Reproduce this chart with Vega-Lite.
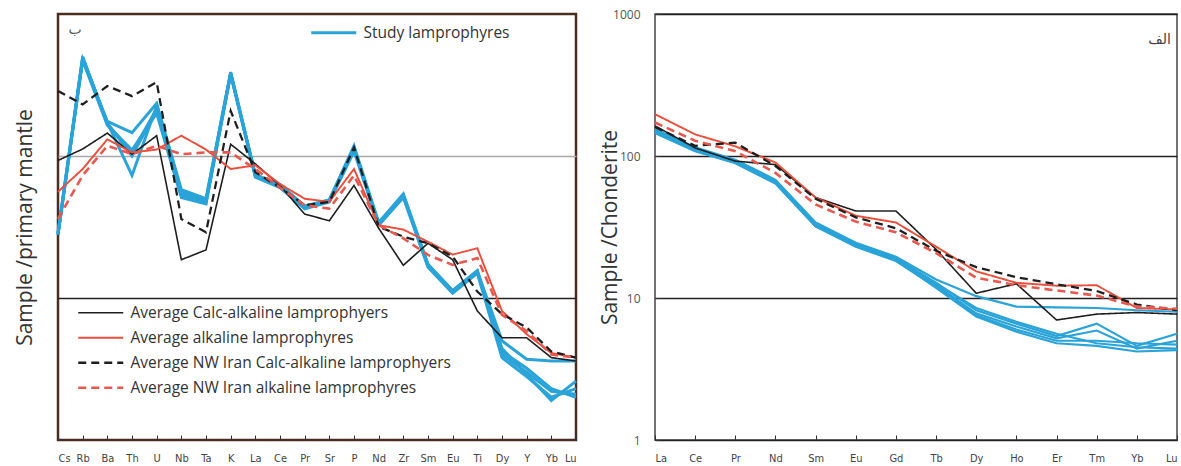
{
  "$schema": "https://vega.github.io/schema/vega-lite/v6.json",
  "padding": {"left": 12, "top": 7, "right": 4, "bottom": 0},
  "background": "white",
  "spacing": 14,
  "config": {
    "font": "Open Sans",
    "axis": {"titleFont": "Open Sans", "titleFontWeight": "normal", "titleColor": "#333", "labelColor": "#444"},
    "legend": {"padding": 0}
  },
  "datasets": {
    "leftBlue": [
      {"e":"Cs","s":"L1","v":28},{"e":"Rb","s":"L1","v":480},{"e":"Ba","s":"L1","v":175},{"e":"Th","s":"L1","v":146},{"e":"U","s":"L1","v":235},{"e":"Nb","s":"L1","v":58},{"e":"Ta","s":"L1","v":50},{"e":"K","s":"L1","v":390},{"e":"La","s":"L1","v":73},{"e":"Ce","s":"L1","v":62},{"e":"Pr","s":"L1","v":44},{"e":"Sr","s":"L1","v":49},{"e":"P","s":"L1","v":115},{"e":"Nd","s":"L1","v":33},{"e":"Zr","s":"L1","v":53},{"e":"Sm","s":"L1","v":17},{"e":"Eu","s":"L1","v":11.1},{"e":"Ti","s":"L1","v":15.5},{"e":"Dy","s":"L1","v":5.0},{"e":"Y","s":"L1","v":3.7},{"e":"Yb","s":"L1","v":3.6},{"e":"Lu","s":"L1","v":3.6},
      {"e":"Cs","s":"L2","v":28},{"e":"Rb","s":"L2","v":495},{"e":"Ba","s":"L2","v":172},{"e":"Th","s":"L2","v":73},{"e":"U","s":"L2","v":225},{"e":"Nb","s":"L2","v":56},{"e":"Ta","s":"L2","v":49},{"e":"K","s":"L2","v":385},{"e":"La","s":"L2","v":72},{"e":"Ce","s":"L2","v":61},{"e":"Pr","s":"L2","v":43.5},{"e":"Sr","s":"L2","v":48.5},{"e":"P","s":"L2","v":112},{"e":"Nd","s":"L2","v":33.5},{"e":"Zr","s":"L2","v":52},{"e":"Sm","s":"L2","v":16.8},{"e":"Eu","s":"L2","v":11.0},{"e":"Ti","s":"L2","v":15.2},{"e":"Dy","s":"L2","v":4.4},{"e":"Y","s":"L2","v":2.9},{"e":"Yb","s":"L2","v":1.9},{"e":"Lu","s":"L2","v":2.6},
      {"e":"Cs","s":"L3","v":29},{"e":"Rb","s":"L3","v":500},{"e":"Ba","s":"L3","v":168},{"e":"Th","s":"L3","v":106},{"e":"U","s":"L3","v":215},{"e":"Nb","s":"L3","v":53},{"e":"Ta","s":"L3","v":47},{"e":"K","s":"L3","v":380},{"e":"La","s":"L3","v":74},{"e":"Ce","s":"L3","v":63},{"e":"Pr","s":"L3","v":44.5},{"e":"Sr","s":"L3","v":49},{"e":"P","s":"L3","v":118},{"e":"Nd","s":"L3","v":34},{"e":"Zr","s":"L3","v":54},{"e":"Sm","s":"L3","v":17.3},{"e":"Eu","s":"L3","v":11.3},{"e":"Ti","s":"L3","v":15.6},{"e":"Dy","s":"L3","v":4.0},{"e":"Y","s":"L3","v":3.0},{"e":"Yb","s":"L3","v":2.2},{"e":"Lu","s":"L3","v":2.1},
      {"e":"Cs","s":"L4","v":28},{"e":"Rb","s":"L4","v":470},{"e":"Ba","s":"L4","v":165},{"e":"Th","s":"L4","v":110},{"e":"U","s":"L4","v":200},{"e":"Nb","s":"L4","v":51},{"e":"Ta","s":"L4","v":46},{"e":"K","s":"L4","v":375},{"e":"La","s":"L4","v":71},{"e":"Ce","s":"L4","v":60},{"e":"Pr","s":"L4","v":42.5},{"e":"Sr","s":"L4","v":47.5},{"e":"P","s":"L4","v":108},{"e":"Nd","s":"L4","v":32.5},{"e":"Zr","s":"L4","v":51},{"e":"Sm","s":"L4","v":16.5},{"e":"Eu","s":"L4","v":10.8},{"e":"Ti","s":"L4","v":15},{"e":"Dy","s":"L4","v":3.8},{"e":"Y","s":"L4","v":2.8},{"e":"Yb","s":"L4","v":2.0},{"e":"Lu","s":"L4","v":2.3},
      {"e":"Cs","s":"L5","v":28.5},{"e":"Rb","s":"L5","v":485},{"e":"Ba","s":"L5","v":170},{"e":"Th","s":"L5","v":100},{"e":"U","s":"L5","v":210},{"e":"Nb","s":"L5","v":54},{"e":"Ta","s":"L5","v":48},{"e":"K","s":"L5","v":382},{"e":"La","s":"L5","v":72.5},{"e":"Ce","s":"L5","v":61.5},{"e":"Pr","s":"L5","v":43},{"e":"Sr","s":"L5","v":48},{"e":"P","s":"L5","v":113},{"e":"Nd","s":"L5","v":33},{"e":"Zr","s":"L5","v":52.5},{"e":"Sm","s":"L5","v":17},{"e":"Eu","s":"L5","v":11.2},{"e":"Ti","s":"L5","v":15.3},{"e":"Dy","s":"L5","v":4.2},{"e":"Y","s":"L5","v":3.2},{"e":"Yb","s":"L5","v":2.3},{"e":"Lu","s":"L5","v":2.0}
    ],
    "leftAvg": [
      {"e":"Cs","s":"Average Calc-alkaline lamprophyers","v":93},{"e":"Rb","s":"Average Calc-alkaline lamprophyers","v":112},{"e":"Ba","s":"Average Calc-alkaline lamprophyers","v":145},{"e":"Th","s":"Average Calc-alkaline lamprophyers","v":103},{"e":"U","s":"Average Calc-alkaline lamprophyers","v":139},{"e":"Nb","s":"Average Calc-alkaline lamprophyers","v":18.6},{"e":"Ta","s":"Average Calc-alkaline lamprophyers","v":21.8},{"e":"K","s":"Average Calc-alkaline lamprophyers","v":121},{"e":"La","s":"Average Calc-alkaline lamprophyers","v":88},{"e":"Ce","s":"Average Calc-alkaline lamprophyers","v":62},{"e":"Pr","s":"Average Calc-alkaline lamprophyers","v":39},{"e":"Sr","s":"Average Calc-alkaline lamprophyers","v":35},{"e":"P","s":"Average Calc-alkaline lamprophyers","v":62},{"e":"Nd","s":"Average Calc-alkaline lamprophyers","v":31},{"e":"Zr","s":"Average Calc-alkaline lamprophyers","v":17},{"e":"Sm","s":"Average Calc-alkaline lamprophyers","v":24.3},{"e":"Eu","s":"Average Calc-alkaline lamprophyers","v":18.6},{"e":"Ti","s":"Average Calc-alkaline lamprophyers","v":8.1},{"e":"Dy","s":"Average Calc-alkaline lamprophyers","v":5.25},{"e":"Y","s":"Average Calc-alkaline lamprophyers","v":5.25},{"e":"Yb","s":"Average Calc-alkaline lamprophyers","v":3.8},{"e":"Lu","s":"Average Calc-alkaline lamprophyers","v":3.6},
      {"e":"Cs","s":"Average alkaline lamprophyres","v":56},{"e":"Rb","s":"Average alkaline lamprophyres","v":81},{"e":"Ba","s":"Average alkaline lamprophyres","v":131},{"e":"Th","s":"Average alkaline lamprophyres","v":106},{"e":"U","s":"Average alkaline lamprophyres","v":111},{"e":"Nb","s":"Average alkaline lamprophyres","v":139},{"e":"Ta","s":"Average alkaline lamprophyres","v":111},{"e":"K","s":"Average alkaline lamprophyres","v":81},{"e":"La","s":"Average alkaline lamprophyres","v":86},{"e":"Ce","s":"Average alkaline lamprophyres","v":63.5},{"e":"Pr","s":"Average alkaline lamprophyres","v":50},{"e":"Sr","s":"Average alkaline lamprophyres","v":47.6},{"e":"P","s":"Average alkaline lamprophyres","v":81},{"e":"Nd","s":"Average alkaline lamprophyres","v":32.6},{"e":"Zr","s":"Average alkaline lamprophyres","v":30.3},{"e":"Sm","s":"Average alkaline lamprophyres","v":24.9},{"e":"Eu","s":"Average alkaline lamprophyres","v":20.2},{"e":"Ti","s":"Average alkaline lamprophyres","v":22.4},{"e":"Dy","s":"Average alkaline lamprophyres","v":8.1},{"e":"Y","s":"Average alkaline lamprophyres","v":5.56},{"e":"Yb","s":"Average alkaline lamprophyres","v":4.1},{"e":"Lu","s":"Average alkaline lamprophyres","v":3.8},
      {"e":"Cs","s":"Average NW Iran Calc-alkaline lamprophyers","v":287},{"e":"Rb","s":"Average NW Iran Calc-alkaline lamprophyers","v":231},{"e":"Ba","s":"Average NW Iran Calc-alkaline lamprophyers","v":311},{"e":"Th","s":"Average NW Iran Calc-alkaline lamprophyers","v":264},{"e":"U","s":"Average NW Iran Calc-alkaline lamprophyers","v":331},{"e":"Nb","s":"Average NW Iran Calc-alkaline lamprophyers","v":36},{"e":"Ta","s":"Average NW Iran Calc-alkaline lamprophyers","v":29},{"e":"K","s":"Average NW Iran Calc-alkaline lamprophyers","v":208},{"e":"La","s":"Average NW Iran Calc-alkaline lamprophyers","v":77},{"e":"Ce","s":"Average NW Iran Calc-alkaline lamprophyers","v":60},{"e":"Pr","s":"Average NW Iran Calc-alkaline lamprophyers","v":45},{"e":"Sr","s":"Average NW Iran Calc-alkaline lamprophyers","v":47.5},{"e":"P","s":"Average NW Iran Calc-alkaline lamprophyers","v":115},{"e":"Nd","s":"Average NW Iran Calc-alkaline lamprophyers","v":31.8},{"e":"Zr","s":"Average NW Iran Calc-alkaline lamprophyers","v":27},{"e":"Sm","s":"Average NW Iran Calc-alkaline lamprophyers","v":24.3},{"e":"Eu","s":"Average NW Iran Calc-alkaline lamprophyers","v":19.6},{"e":"Ti","s":"Average NW Iran Calc-alkaline lamprophyers","v":11.1},{"e":"Dy","s":"Average NW Iran Calc-alkaline lamprophyers","v":7.7},{"e":"Y","s":"Average NW Iran Calc-alkaline lamprophyers","v":6.2},{"e":"Yb","s":"Average NW Iran Calc-alkaline lamprophyers","v":4.2},{"e":"Lu","s":"Average NW Iran Calc-alkaline lamprophyers","v":3.8},
      {"e":"Cs","s":"Average NW Iran alkaline lamprophyres","v":36},{"e":"Rb","s":"Average NW Iran alkaline lamprophyres","v":73},{"e":"Ba","s":"Average NW Iran alkaline lamprophyres","v":118},{"e":"Th","s":"Average NW Iran alkaline lamprophyres","v":103},{"e":"U","s":"Average NW Iran alkaline lamprophyres","v":118},{"e":"Nb","s":"Average NW Iran alkaline lamprophyres","v":103},{"e":"Ta","s":"Average NW Iran alkaline lamprophyres","v":106},{"e":"K","s":"Average NW Iran alkaline lamprophyres","v":106},{"e":"La","s":"Average NW Iran alkaline lamprophyres","v":81},{"e":"Ce","s":"Average NW Iran alkaline lamprophyres","v":60},{"e":"Pr","s":"Average NW Iran alkaline lamprophyres","v":45},{"e":"Sr","s":"Average NW Iran alkaline lamprophyres","v":42.6},{"e":"P","s":"Average NW Iran alkaline lamprophyres","v":73},{"e":"Nd","s":"Average NW Iran alkaline lamprophyres","v":32.6},{"e":"Zr","s":"Average NW Iran alkaline lamprophyres","v":26.3},{"e":"Sm","s":"Average NW Iran alkaline lamprophyres","v":20.1},{"e":"Eu","s":"Average NW Iran alkaline lamprophyres","v":17.1},{"e":"Ti","s":"Average NW Iran alkaline lamprophyres","v":19.1},{"e":"Dy","s":"Average NW Iran alkaline lamprophyres","v":7.6},{"e":"Y","s":"Average NW Iran alkaline lamprophyres","v":5.85},{"e":"Yb","s":"Average NW Iran alkaline lamprophyres","v":4.0},{"e":"Lu","s":"Average NW Iran alkaline lamprophyres","v":3.8}
    ],
    "rightBlue": [
      {"e":"La","s":"R1","v":155},{"e":"Ce","s":"R1","v":115},{"e":"Pr","s":"R1","v":94},{"e":"Nd","s":"R1","v":68},{"e":"Sm","s":"R1","v":34},{"e":"Eu","s":"R1","v":24.5},{"e":"Gd","s":"R1","v":19.5},{"e":"Tb","s":"R1","v":13.5},{"e":"Dy","s":"R1","v":10.3},{"e":"Ho","s":"R1","v":8.7},{"e":"Er","s":"R1","v":8.6},{"e":"Tm","s":"R1","v":8.5},{"e":"Yb","s":"R1","v":8.2},{"e":"Lu","s":"R1","v":8.0},
      {"e":"La","s":"R2","v":150},{"e":"Ce","s":"R2","v":112},{"e":"Pr","s":"R2","v":92},{"e":"Nd","s":"R2","v":66},{"e":"Sm","s":"R2","v":33},{"e":"Eu","s":"R2","v":24},{"e":"Gd","s":"R2","v":19},{"e":"Tb","s":"R2","v":12.8},{"e":"Dy","s":"R2","v":8.2},{"e":"Ho","s":"R2","v":6.6},{"e":"Er","s":"R2","v":5.4},{"e":"Tm","s":"R2","v":6.6},{"e":"Yb","s":"R2","v":4.6},{"e":"Lu","s":"R2","v":5.6},
      {"e":"La","s":"R3","v":148},{"e":"Ce","s":"R3","v":110},{"e":"Pr","s":"R3","v":90},{"e":"Nd","s":"R3","v":65},{"e":"Sm","s":"R3","v":32.5},{"e":"Eu","s":"R3","v":23.5},{"e":"Gd","s":"R3","v":18.5},{"e":"Tb","s":"R3","v":12.3},{"e":"Dy","s":"R3","v":7.8},{"e":"Ho","s":"R3","v":6.3},{"e":"Er","s":"R3","v":5.2},{"e":"Tm","s":"R3","v":5.9},{"e":"Yb","s":"R3","v":4.4},{"e":"Lu","s":"R3","v":5.0},
      {"e":"La","s":"R4","v":145},{"e":"Ce","s":"R4","v":108},{"e":"Pr","s":"R4","v":89},{"e":"Nd","s":"R4","v":64},{"e":"Sm","s":"R4","v":32},{"e":"Eu","s":"R4","v":23},{"e":"Gd","s":"R4","v":18.2},{"e":"Tb","s":"R4","v":12},{"e":"Dy","s":"R4","v":7.6},{"e":"Ho","s":"R4","v":6.0},{"e":"Er","s":"R4","v":5.0},{"e":"Tm","s":"R4","v":5.0},{"e":"Yb","s":"R4","v":4.8},{"e":"Lu","s":"R4","v":4.7},
      {"e":"La","s":"R5","v":152},{"e":"Ce","s":"R5","v":113},{"e":"Pr","s":"R5","v":93},{"e":"Nd","s":"R5","v":67},{"e":"Sm","s":"R5","v":33.5},{"e":"Eu","s":"R5","v":24.3},{"e":"Gd","s":"R5","v":19.3},{"e":"Tb","s":"R5","v":12.6},{"e":"Dy","s":"R5","v":8.5},{"e":"Ho","s":"R5","v":6.8},{"e":"Er","s":"R5","v":5.6},{"e":"Tm","s":"R5","v":4.8},{"e":"Yb","s":"R5","v":4.5},{"e":"Lu","s":"R5","v":4.4},
      {"e":"La","s":"R6","v":146},{"e":"Ce","s":"R6","v":109},{"e":"Pr","s":"R6","v":90},{"e":"Nd","s":"R6","v":64.5},{"e":"Sm","s":"R6","v":32},{"e":"Eu","s":"R6","v":23.2},{"e":"Gd","s":"R6","v":18.4},{"e":"Tb","s":"R6","v":11.8},{"e":"Dy","s":"R6","v":7.4},{"e":"Ho","s":"R6","v":5.8},{"e":"Er","s":"R6","v":4.8},{"e":"Tm","s":"R6","v":4.6},{"e":"Yb","s":"R6","v":4.2},{"e":"Lu","s":"R6","v":4.3}
    ],
    "rightAvg": [
      {"e":"La","s":"Average Calc-alkaline lamprophyers","v":163},{"e":"Ce","s":"Average Calc-alkaline lamprophyers","v":114},{"e":"Pr","s":"Average Calc-alkaline lamprophyers","v":92},{"e":"Nd","s":"Average Calc-alkaline lamprophyers","v":87},{"e":"Sm","s":"Average Calc-alkaline lamprophyers","v":51},{"e":"Eu","s":"Average Calc-alkaline lamprophyers","v":41},{"e":"Gd","s":"Average Calc-alkaline lamprophyers","v":41},{"e":"Tb","s":"Average Calc-alkaline lamprophyers","v":22},{"e":"Dy","s":"Average Calc-alkaline lamprophyers","v":10.8},{"e":"Ho","s":"Average Calc-alkaline lamprophyers","v":12.6},{"e":"Er","s":"Average Calc-alkaline lamprophyers","v":7.0},{"e":"Tm","s":"Average Calc-alkaline lamprophyers","v":7.7},{"e":"Yb","s":"Average Calc-alkaline lamprophyers","v":7.9},{"e":"Lu","s":"Average Calc-alkaline lamprophyers","v":7.7},
      {"e":"La","s":"Average alkaline lamprophyres","v":197},{"e":"Ce","s":"Average alkaline lamprophyres","v":142},{"e":"Pr","s":"Average alkaline lamprophyres","v":117},{"e":"Nd","s":"Average alkaline lamprophyres","v":90},{"e":"Sm","s":"Average alkaline lamprophyres","v":51},{"e":"Eu","s":"Average alkaline lamprophyres","v":38},{"e":"Gd","s":"Average alkaline lamprophyres","v":34},{"e":"Tb","s":"Average alkaline lamprophyres","v":23},{"e":"Dy","s":"Average alkaline lamprophyres","v":15.4},{"e":"Ho","s":"Average alkaline lamprophyres","v":12.8},{"e":"Er","s":"Average alkaline lamprophyres","v":12.2},{"e":"Tm","s":"Average alkaline lamprophyres","v":12.3},{"e":"Yb","s":"Average alkaline lamprophyres","v":8.5},{"e":"Lu","s":"Average alkaline lamprophyres","v":8.3},
      {"e":"La","s":"Average NW Iran Calc-alkaline lamprophyers","v":160},{"e":"Ce","s":"Average NW Iran Calc-alkaline lamprophyers","v":118},{"e":"Pr","s":"Average NW Iran Calc-alkaline lamprophyers","v":124},{"e":"Nd","s":"Average NW Iran Calc-alkaline lamprophyers","v":85},{"e":"Sm","s":"Average NW Iran Calc-alkaline lamprophyers","v":50},{"e":"Eu","s":"Average NW Iran Calc-alkaline lamprophyers","v":37},{"e":"Gd","s":"Average NW Iran Calc-alkaline lamprophyers","v":31},{"e":"Tb","s":"Average NW Iran Calc-alkaline lamprophyers","v":21.5},{"e":"Dy","s":"Average NW Iran Calc-alkaline lamprophyers","v":16.5},{"e":"Ho","s":"Average NW Iran Calc-alkaline lamprophyers","v":14},{"e":"Er","s":"Average NW Iran Calc-alkaline lamprophyers","v":12.5},{"e":"Tm","s":"Average NW Iran Calc-alkaline lamprophyers","v":11.2},{"e":"Yb","s":"Average NW Iran Calc-alkaline lamprophyers","v":9},{"e":"Lu","s":"Average NW Iran Calc-alkaline lamprophyers","v":8.2},
      {"e":"La","s":"Average NW Iran alkaline lamprophyres","v":172},{"e":"Ce","s":"Average NW Iran alkaline lamprophyres","v":128},{"e":"Pr","s":"Average NW Iran alkaline lamprophyres","v":108},{"e":"Nd","s":"Average NW Iran alkaline lamprophyres","v":76},{"e":"Sm","s":"Average NW Iran alkaline lamprophyres","v":45.6},{"e":"Eu","s":"Average NW Iran alkaline lamprophyres","v":34.5},{"e":"Gd","s":"Average NW Iran alkaline lamprophyres","v":29},{"e":"Tb","s":"Average NW Iran alkaline lamprophyres","v":20.7},{"e":"Dy","s":"Average NW Iran alkaline lamprophyres","v":13.9},{"e":"Ho","s":"Average NW Iran alkaline lamprophyres","v":12.3},{"e":"Er","s":"Average NW Iran alkaline lamprophyres","v":11.3},{"e":"Tm","s":"Average NW Iran alkaline lamprophyres","v":10.4},{"e":"Yb","s":"Average NW Iran alkaline lamprophyres","v":8.7},{"e":"Lu","s":"Average NW Iran alkaline lamprophyres","v":8.4}
    ]
  },
  "hconcat": [
    {
      "width": 518,
      "height": 426,
      "view": {"stroke": "#4a2c22", "strokeWidth": 2.5},
      "layer": [
        {
          "data": {"name": "leftBlue"},
          "mark": {"type": "line", "strokeWidth": 3, "strokeJoin": "miter"},
          "encoding": {
            "x": {"field": "e", "type": "nominal",
              "scale": {"type": "point", "padding": 0, "domain": ["Cs","Rb","Ba","Th","U","Nb","Ta","K","La","Ce","Pr","Sr","P","Nd","Zr","Sm","Eu","Ti","Dy","Y","Yb","Lu"]},
              "axis": {"title": null, "domain": false, "grid": false, "labelAngle": 0, "labelFlush": true, "tickSize": -5, "tickColor": "#333", "labelPadding": 17, "labelFont": "Liberation Sans Narrow, DejaVu Sans Condensed, Roboto", "labelFontSize": 11, "labelColor": "#444"}},
            "y": {"field": "v", "type": "quantitative", "scale": {"type": "log", "domain": [1, 1000], "nice": false},
              "axis": {"title": "Sample /primary mantle", "titleFontSize": 21, "titlePadding": 23, "labels": false, "ticks": false, "domain": false, "grid": true, "values": [10, 100],
                "gridColor": {"condition": {"test": "datum.value === 100", "value": "#a8a8a8"}, "value": "#222"}, "gridWidth": 1.5, "gridOpacity": 1}},
            "detail": {"field": "s"},
            "order": {"value": null},
            "stroke": {"datum": "Study lamprophyres", "scale": {"range": ["#2aa3d8"]},
              "legend": {"title": null, "orient": "none", "legendX": 268, "legendY": 11, "symbolType": "M-5,0H5", "symbolSize": 81, "symbolStrokeWidth": 3, "labelOffset": 22, "labelLimit": 400, "labelFont": "Open Sans", "labelFontSize": 15.5, "labelColor": "#333"}}
          }
        },
        {
          "data": {"name": "leftAvg"},
          "mark": {"type": "line"},
          "encoding": {
            "x": {"field": "e", "type": "nominal"},
            "y": {"field": "v", "type": "quantitative"},
            "order": {"value": null},
            "color": {"field": "s", "type": "nominal",
              "scale": {"domain": ["Average Calc-alkaline lamprophyers","Average alkaline lamprophyres","Average NW Iran Calc-alkaline lamprophyers","Average NW Iran alkaline lamprophyres"], "range": ["#1e1e1e","#eb4e3a","#1e1e1e","#e8584f"]},
              "legend": {"title": null, "orient": "none", "legendX": 35, "legendY": 291, "symbolType": "M-5,0H5", "symbolSize": 81, "labelOffset": 22, "labelLimit": 400, "rowPadding": 8, "labelFont": "Open Sans", "labelFontSize": 15.5, "labelColor": "#333"}},
            "strokeDash": {"field": "s", "type": "nominal",
              "scale": {"domain": ["Average Calc-alkaline lamprophyers","Average alkaline lamprophyres","Average NW Iran Calc-alkaline lamprophyers","Average NW Iran alkaline lamprophyres"], "range": [[1,0],[1,0],[8,5],[8,5]]}},
            "strokeWidth": {"field": "s", "type": "nominal",
              "scale": {"domain": ["Average Calc-alkaline lamprophyers","Average alkaline lamprophyres","Average NW Iran Calc-alkaline lamprophyers","Average NW Iran alkaline lamprophyres"], "range": [1.6, 2.6, 2.2, 2.2]}}
          }
        },
        {
          "data": {"values": [{"e": "Cs", "v": 770, "t": "ب"}]},
          "mark": {"type": "text", "dx": 17, "font": "DejaVu Sans", "fontSize": 14, "color": "#555", "align": "center", "baseline": "middle"},
          "encoding": {
            "x": {"field": "e", "type": "nominal"},
            "y": {"field": "v", "type": "quantitative"},
            "text": {"field": "t"}
          }
        }
      ]
    },
    {
      "width": 522,
      "height": 426,
      "view": {"stroke": "#444", "strokeWidth": 1.5},
      "layer": [
        {
          "data": {"name": "rightBlue"},
          "mark": {"type": "line", "strokeWidth": 2.2, "color": "#2aa3d8"},
          "encoding": {
            "x": {"field": "e", "type": "nominal",
              "scale": {"type": "point", "padding": 0, "domain": ["La","Ce","Pr","Nd","Sm","Eu","Gd","Tb","Dy","Ho","Er","Tm","Yb","Lu"]},
              "axis": {"title": null, "domain": false, "grid": false, "labelAngle": 0, "labelFlush": true, "tickSize": -5, "tickColor": "#333", "labelPadding": 17, "labelFont": "Liberation Sans Narrow, DejaVu Sans Condensed, Roboto", "labelFontSize": 11, "labelColor": "#444"}},
            "y": {"field": "v", "type": "quantitative", "scale": {"type": "log", "domain": [1, 1000], "nice": false},
              "axis": {"title": "Sample /Chonderite", "titleFontSize": 21, "titlePadding": -8, "values": [1, 10, 100, 1000], "format": "d", "labelFont": "Open Sans", "labelFontSize": 12, "labelColor": "#555", "tickSize": -5, "tickColor": "#333", "labelPadding": 20, "domain": false, "grid": true, "gridColor": "#222", "gridWidth": 1.5, "gridOpacity": 1}},
            "detail": {"field": "s"},
            "order": {"value": null}
          }
        },
        {
          "data": {"name": "rightAvg"},
          "mark": {"type": "line"},
          "encoding": {
            "x": {"field": "e", "type": "nominal"},
            "y": {"field": "v", "type": "quantitative"},
            "order": {"value": null},
            "color": {"field": "s", "type": "nominal",
              "scale": {"domain": ["Average Calc-alkaline lamprophyers","Average alkaline lamprophyres","Average NW Iran Calc-alkaline lamprophyers","Average NW Iran alkaline lamprophyres"], "range": ["#1e1e1e","#eb4e3a","#1e1e1e","#e8584f"]}, "legend": null},
            "strokeDash": {"field": "s", "type": "nominal",
              "scale": {"domain": ["Average Calc-alkaline lamprophyers","Average alkaline lamprophyres","Average NW Iran Calc-alkaline lamprophyers","Average NW Iran alkaline lamprophyres"], "range": [[1,0],[1,0],[8,5],[8,5]]}, "legend": null},
            "strokeWidth": {"field": "s", "type": "nominal",
              "scale": {"domain": ["Average Calc-alkaline lamprophyers","Average alkaline lamprophyres","Average NW Iran Calc-alkaline lamprophyers","Average NW Iran alkaline lamprophyres"], "range": [1.6, 2.6, 2.2, 2.2]}, "legend": null}
          }
        },
        {
          "data": {"values": [{"e": "Lu", "v": 660, "t": "الف"}]},
          "mark": {"type": "text", "dx": -6, "font": "DejaVu Sans", "fontSize": 14, "color": "#444", "align": "right", "baseline": "middle"},
          "encoding": {
            "x": {"field": "e", "type": "nominal"},
            "y": {"field": "v", "type": "quantitative"},
            "text": {"field": "t"}
          }
        }
      ]
    }
  ],
  "resolve": {"scale": {"color": "independent", "strokeDash": "independent", "strokeWidth": "independent", "stroke": "independent"}}
}
